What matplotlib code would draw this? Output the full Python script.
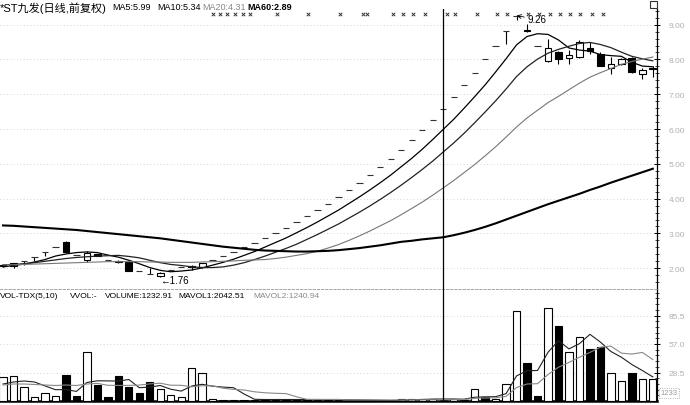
import numpy as np
import matplotlib.pyplot as plt
from matplotlib.patches import Rectangle
from matplotlib.transforms import blended_transform_factory

plt.rcParams['font.family'] = ['Liberation Sans', 'Noto Sans CJK SC', 'DejaVu Sans']

# *ST九发 日线 (前复权), 63 个交易日
opens = [2.07, 2.06, 2.21, 2.33, 2.47, 2.60, 2.75, 2.37, 2.25, 2.40,
         2.25, 2.22, 2.17, 1.92, 1.84, 1.78, 1.95, 2.05, 2.03, 2.03,
         2.25, 2.36, 2.48, 2.60, 2.73, 2.87, 3.01, 3.16, 3.32, 3.49,
         3.66, 3.85, 4.04, 4.24, 4.45, 4.67, 4.91, 5.15, 5.41, 5.68,
         5.97, 6.27, 6.58, 6.91, 7.26, 7.62, 8.00, 8.40, 8.82, 9.26,
         8.86, 8.38, 7.97, 8.22, 8.03, 8.06, 8.32, 8.16, 7.75, 7.87,
         8.03, 7.58, 7.76]
highs = [2.12, 2.16, 2.21, 2.33, 2.47, 2.60, 2.77, 2.37, 2.49, 2.42,
         2.25, 2.24, 2.18, 1.92, 2.00, 1.90, 1.95, 2.05, 2.10, 2.16,
         2.25, 2.36, 2.48, 2.60, 2.73, 2.87, 3.01, 3.16, 3.32, 3.49,
         3.66, 3.85, 4.04, 4.24, 4.45, 4.67, 4.91, 5.15, 5.41, 5.68,
         5.97, 6.27, 6.58, 6.91, 7.26, 7.62, 8.00, 8.40, 8.82, 9.26,
         9.02, 8.38, 8.59, 8.25, 8.27, 8.56, 8.49, 8.20, 8.06, 8.05,
         8.07, 7.75, 7.80]
lows = [2.03, 2.01, 2.08, 2.20, 2.36, 2.60, 2.44, 2.37, 2.18, 2.34,
        2.25, 2.14, 1.92, 1.92, 1.84, 1.76, 1.95, 2.05, 1.95, 2.00,
        2.25, 2.36, 2.48, 2.60, 2.73, 2.87, 3.01, 3.16, 3.32, 3.49,
        3.66, 3.85, 4.04, 4.24, 4.45, 4.67, 4.91, 5.15, 5.41, 5.68,
        5.97, 6.27, 6.58, 6.91, 7.26, 7.62, 8.00, 8.40, 8.45, 9.12,
        8.80, 8.38, 7.94, 7.87, 7.87, 8.04, 8.15, 7.80, 7.58, 7.85,
        7.60, 7.45, 7.49]
closes = [2.10, 2.15, 2.21, 2.33, 2.47, 2.60, 2.46, 2.37, 2.44, 2.36,
          2.25, 2.17, 1.93, 1.92, 1.84, 1.86, 1.95, 2.05, 2.06, 2.14,
          2.25, 2.36, 2.48, 2.60, 2.73, 2.87, 3.01, 3.16, 3.32, 3.49,
          3.66, 3.85, 4.04, 4.24, 4.45, 4.67, 4.91, 5.15, 5.41, 5.68,
          5.97, 6.27, 6.58, 6.91, 7.26, 7.62, 8.00, 8.40, 8.82, 9.26,
          8.82, 8.38, 8.32, 8.01, 8.13, 8.49, 8.25, 7.82, 7.87, 8.01,
          7.63, 7.71, 7.72]

ma5 = [2.04, 2.08, 2.12, 2.18, 2.25, 2.35, 2.41, 2.45, 2.47, 2.45,
       2.38, 2.32, 2.23, 2.13, 2.02, 1.94, 1.90, 1.92, 1.95, 2.01,
       2.09, 2.17, 2.26, 2.37, 2.48, 2.61, 2.74, 2.87, 3.02, 3.17,
       3.33, 3.50, 3.67, 3.86, 4.05, 4.25, 4.46, 4.68, 4.92, 5.16,
       5.42, 5.70, 5.99, 6.28, 6.60, 6.93, 7.27, 7.64, 8.02, 8.42,
       8.66, 8.74, 8.72, 8.56, 8.33, 8.27, 8.24, 8.14, 8.11, 8.09,
       7.92, 7.81, 7.79]
ma10 = [2.10, 2.11, 2.13, 2.16, 2.20, 2.24, 2.28, 2.31, 2.33, 2.35,
        2.36, 2.37, 2.34, 2.30, 2.23, 2.16, 2.11, 2.08, 2.04, 2.02,
        2.02, 2.04, 2.09, 2.16, 2.25, 2.35, 2.46, 2.57, 2.69, 2.83,
        2.97, 3.12, 3.27, 3.44, 3.61, 3.79, 3.98, 4.18, 4.39, 4.61,
        4.84, 5.08, 5.34, 5.60, 5.88, 6.18, 6.49, 6.81, 7.15, 7.51,
        7.79, 8.01, 8.18, 8.29, 8.38, 8.46, 8.49, 8.43, 8.34, 8.21,
        8.09, 8.02, 7.96]
ma20 = [2.10, 2.10, 2.11, 2.12, 2.13, 2.14, 2.15, 2.16, 2.17, 2.18,
        2.19, 2.19, 2.19, 2.19, 2.18, 2.18, 2.17, 2.17, 2.17, 2.18,
        2.19, 2.20, 2.21, 2.23, 2.24, 2.25, 2.28, 2.32, 2.37, 2.42,
        2.49, 2.58, 2.68, 2.80, 2.93, 3.07, 3.22, 3.37, 3.54, 3.72,
        3.90, 4.10, 4.31, 4.52, 4.75, 4.98, 5.23, 5.49, 5.77, 6.06,
        6.32, 6.54, 6.76, 6.94, 7.13, 7.32, 7.49, 7.62, 7.74, 7.86,
        7.94, 8.01, 8.07]
ma60 = [3.23, 3.22, 3.20, 3.18, 3.16, 3.14, 3.12, 3.10, 3.07, 3.04,
        3.01, 2.98, 2.95, 2.92, 2.89, 2.86, 2.82, 2.78, 2.74, 2.70,
        2.66, 2.62, 2.59, 2.56, 2.53, 2.51, 2.50, 2.49, 2.48, 2.48,
        2.49, 2.50, 2.52, 2.55, 2.58, 2.62, 2.66, 2.71, 2.76, 2.79,
        2.83, 2.86, 2.89, 2.95, 3.02, 3.10, 3.19, 3.29, 3.40, 3.51,
        3.62, 3.73, 3.84, 3.94, 4.04, 4.14, 4.25, 4.35, 4.46, 4.56,
        4.66, 4.76, 4.86]

volume = [23700, 25300, 14300, 4300, 7700, 4700, 26000, 5300, 48700, 16300,
          4300, 24700, 13700, 7700, 19300, 12000, 6300, 4300, 33000, 28000,
          2500, 1500, 1500, 1500, 1500, 1500, 1500, 1500, 1500, 1500,
          1500, 1500, 1500, 440, 440, 440, 440, 440, 2250, 2250,
          2250, 2250, 1233, 1800, 1500, 12000, 4300, 2000, 17000, 90300,
          38000, 5000, 93000, 75300, 49000, 64300, 52000, 54000, 28300, 20300,
          28000, 22000, 21700]
vol_up = [1, 1, 1, 1, 1, 1, 0, 0, 1, 0,
          0, 0, 0, 0, 0, 1, 1, 1, 1, 1,
          1, 1, 1, 1, 1, 1, 1, 1, 1, 1,
          1, 1, 1, 1, 1, 1, 1, 1, 1, 1,
          1, 1, 1, 1, 1, 1, 0, 1, 1, 1,
          0, 0, 1, 0, 1, 1, 0, 0, 1, 1,
          0, 1, 1]
mavol1 = [17000, 19000, 20000, 19000, 15100, 11300, 11400, 9600, 18500, 20200,
          20100, 19900, 21500, 13300, 13900, 15500, 11800, 9900, 15000, 16700,
          14800, 13900, 13300, 7000, 1700, 1500, 1500, 1500, 1500, 1500,
          1500, 1500, 1500, 1290, 1080, 860, 650, 440, 800, 1160,
          1520, 1880, 2043, 1960, 1810, 3760, 4170, 4320, 7360, 25100,
          30300, 30500, 48700, 60300, 52100, 57300, 66700, 58900, 49500, 43800,
          36500, 30500, 24100]
mavol2 = [16000, 17000, 17000, 16500, 16000, 15500, 16000, 15500, 17000, 17600,
          15700, 15600, 15600, 15900, 17100, 17800, 15800, 15700, 14200, 15300,
          15200, 12800, 11600, 11000, 9200, 8200, 7700, 7400, 4250, 1600,
          1500, 1500, 1500, 1240, 1190, 1150, 1100, 1060, 1050, 1120,
          1200, 1270, 1241, 1380, 1490, 2640, 3030, 3180, 4660, 13500,
          17000, 17300, 26500, 33800, 38600, 43800, 48600, 53800, 54900, 47900,
          46900, 48600, 41500]

# 信号标记 (K线序号位置)
signal_pos = [20.0, 20.7, 21.4, 22.1, 22.9, 23.6, 26.1, 29.1, 32.2, 34.3,
              34.7, 37.2, 38.2, 39.1, 40.3, 42.4, 43.1, 45.2, 47.1, 48.1,
              50.1, 51.1, 52.2, 53.1, 54.1, 55.1, 56.2, 57.2]
cursor = 42
hi_idx, lo_idx = 49, 15
price_ticks = [2, 3, 4, 5, 6, 7, 8, 9]
vol_ticks = [28500, 57000, 85500]
vol_tick_labels = ['28.5', '57.0', '85.5']

W, H = 690, 406
fig = plt.figure(figsize=(W / 100, H / 100), dpi=100)


def fy(y):
    return 1 - y / H


ax = fig.add_axes([0, fy(290), 657 / W, 280 / H])
axv = fig.add_axes([0, fy(402), 657 / W, 112 / H], sharex=ax)

n = len(closes)
idx = np.arange(n)
o = np.array(opens)
c = np.array(closes)
hi = np.array(highs)
lo = np.array(lows)

# K线
ax.vlines(idx, lo, hi, color='black', lw=0.8, zorder=2)
body = c != o
ax.bar(idx[body], np.abs(c - o)[body], bottom=np.minimum(o, c)[body], width=0.64,
       color=np.where(c[body] > o[body], 'white', 'black'), edgecolor='black', lw=0.8, zorder=3)
flat = ~body
ax.hlines(c[flat], idx[flat] - 0.3, idx[flat] + 0.3, color='#333333', lw=0.8, zorder=3)

# 均线
ax.plot(idx, ma5, color='black', lw=0.9, zorder=4)
ax.plot(idx, ma10, color='#222222', lw=0.9, zorder=4)
ax.plot(idx, ma20, color='#777777', lw=0.8, zorder=4)
ax.plot(idx, ma60, color='black', lw=1.5, zorder=4)

ax.annotate('9.26', xy=(hi_idx, highs[hi_idx]), xytext=(hi_idx + 1.0, highs[hi_idx] - 0.11),
            fontsize=7, va='center', ha='left',
            arrowprops=dict(arrowstyle='->', lw=0.6, shrinkA=0, shrinkB=0))
ax.text(lo_idx, lows[lo_idx] - 0.11, '←1.76', fontsize=7, va='center', ha='left')

tr = blended_transform_factory(ax.transData, ax.transAxes)
ax.scatter(signal_pos, [0.982] * len(signal_pos), marker='x', s=6, lw=0.7,
           color='#333333', transform=tr, zorder=5)

ax.set_xlim(-0.29, 62.4)
ax.set_ylim(1.404, 9.45)
ax.yaxis.tick_right()
ax.set_yticks(price_ticks)
ax.set_yticklabels(['%.2f' % t for t in price_ticks])
ax.set_yticks(np.arange(1.6, 9.45, 0.2), minor=True)
ax.tick_params(axis='y', which='major', direction='inout', length=5, width=0.7,
               labelsize=6, labelcolor='#b0b0b0', pad=6)
ax.tick_params(axis='y', which='minor', direction='inout', length=2.5, width=0.5)
ax.tick_params(axis='x', bottom=False, labelbottom=False)
ax.grid(axis='y', color='#c8c8c8', ls=(0, (1, 3)), lw=0.6)
for s in ['left', 'top', 'bottom']:
    ax.spines[s].set_visible(False)
ax.spines['right'].set_linewidth(0.9)
ax.axvline(cursor, color='black', lw=0.9, zorder=6)

# 成交量
axv.bar(idx, volume, width=0.7, color=['white' if u else 'black' for u in vol_up],
        edgecolor='black', lw=0.8, zorder=3)
axv.plot(idx, mavol1, color='#222222', lw=0.8, zorder=4)
axv.plot(idx, mavol2, color='#888888', lw=0.8, zorder=4)
axv.set_ylim(0, 112000)
axv.yaxis.tick_right()
axv.set_yticks(vol_ticks)
axv.set_yticklabels(vol_tick_labels)
axv.set_yticks(np.arange(5700, 112000, 5700), minor=True)
axv.tick_params(axis='y', which='major', direction='inout', length=5, width=0.7,
                labelsize=6, labelcolor='#b0b0b0', pad=6)
axv.tick_params(axis='y', which='minor', direction='inout', length=2.5, width=0.5)
axv.tick_params(axis='x', bottom=False, labelbottom=False)
axv.grid(axis='y', color='#c8c8c8', ls=(0, (1, 3)), lw=0.6)
axv.spines['left'].set_visible(False)
axv.spines['top'].set_linestyle((0, (3, 2)))
axv.spines['top'].set_color('#999999')
axv.spines['top'].set_linewidth(0.6)
axv.spines['bottom'].set_linewidth(1.8)
axv.spines['right'].set_linewidth(0.9)
axv.axvline(cursor, color='black', lw=0.9, zorder=6)

# 标题行
title_parts = [('*ST九发(日线,前复权)', 0, 'black', 'normal', 8),
               ('MA5:5.99', 112, 'black', 'normal', 6.5),
               ('MA10:5.34', 157, 'black', 'normal', 6.5),
               ('MA20:4.31', 202, '#888888', 'normal', 6.5),
               ('MA60:2.89', 247, 'black', 'bold', 6.5)]
for txt, x, col, wt, fs in title_parts:
    fig.text(x / W, fy(8), txt, fontsize=fs, color=col, weight=wt, va='center', ha='left')

vol_parts = [('VOL-TDX(5,10)', 0, 'black'),
             ('VVOL:-', 70, 'black'),
             ('VOLUME:1232.91', 105, 'black'),
             ('MAVOL1:2042.51', 178, 'black'),
             ('MAVOL2:1240.94', 253, '#888888')]
for txt, x, col in vol_parts:
    fig.text(x / W, fy(297), txt, fontsize=6, color=col, va='center', ha='left')

fig.text(669 / W, fy(394), '1233', fontsize=5.5, color='#999999', va='center', ha='center',
         bbox=dict(boxstyle='square,pad=0.25', fc='white', ec='#999999', ls=':', lw=0.6))
fig.add_artist(Rectangle((650 / W, fy(9)), 7 / W, 7 / H, transform=fig.transFigure,
                         fill=False, lw=0.8, ec='#333333'))

fig.savefig('out.png', dpi=100, facecolor='white')
